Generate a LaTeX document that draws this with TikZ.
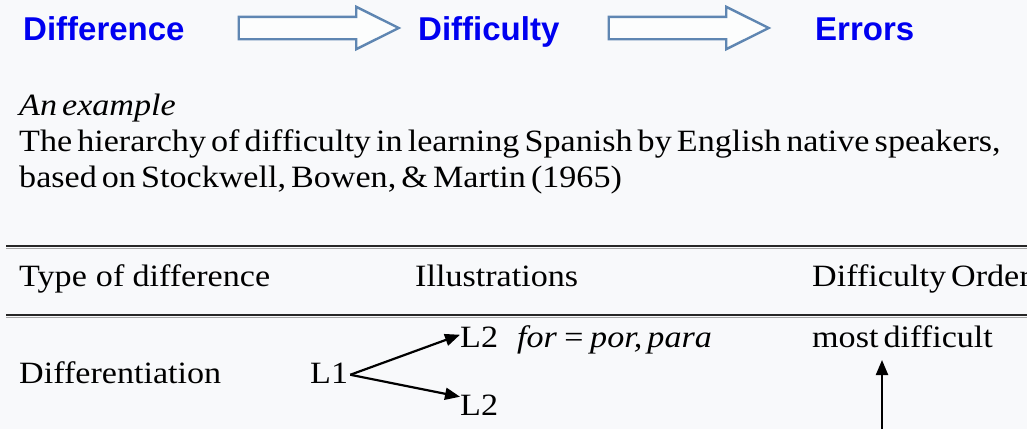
\documentclass[tikz,border=0pt]{standalone}
\usepackage{fontspec}
\setmainfont{Liberation Serif}[FakeStretch=1.1,WordSpace=0.6]
\newfontfamily\headfont{Liberation Sans}
\usetikzlibrary{arrows.meta,shapes.arrows,positioning}

\definecolor{pagebg}{HTML}{F8F9FB}
\definecolor{headblue}{HTML}{0000F0}
\definecolor{arrowedge}{HTML}{5F86B2}

\begin{document}
\begin{tikzpicture}[x=1pt,y=-1pt,>=Triangle,
      every node/.style={inner sep=0pt,font=\fontsize{31}{37}\selectfont},
      headword/.style={anchor=base west,text=headblue,
        font=\headfont\bfseries\fontsize{33}{38}\selectfont},
      blockarrow/.style={single arrow,draw=arrowedge,line width=2.4pt,
        fill=white!60!pagebg,minimum height=160pt,
        inner xsep=0pt,inner ysep=10pt,
        single arrow head extend=10pt,single arrow tip angle=53},
      cell/.style={anchor=base west},
      rule/.style={line width=2pt,black!85},
      link/.style={line width=2.2pt,
        arrows={-Triangle[length=15pt,width=12pt]}}]
    \useasboundingbox[fill=pagebg] (0,0) rectangle (1027,429);

    \node[headword] (diff) at (23,40) {Difference};
    \node[blockarrow] (arrA) at (307.5,28) {};
    \node[headword] (hard) at (418,40) {Difficulty};
    \node[blockarrow] (arrB) at (677.5,28) {};
    \node[headword] (err) at (815,40) {Errors};

    \node[cell] (ex) at (19,115) {\itshape An example};
    \node[cell] (hier) at (19,151) {The hierarchy of difficulty in learning Spanish by English native speakers,};
    \node[cell] (src) at (19,187) {based on Stockwell, Bowen, \& Martin (1965)};

    \draw[black!35,line width=1pt] (6,248) -- (1027,248);
    \draw[rule] (6,246) -- (1027,246);
    \draw[black!35,line width=1pt] (6,317) -- (1027,317);
    \draw[rule] (6,315) -- (1027,315);

    \node[cell] (type) at (19,286) {Type\hspace{4pt} of\hspace{3pt} difference};
    \node[cell] (ill) at (415,286) {Illustrations};
    \node[cell] (ord) at (812,286) {Difficulty Order};

    \node[cell] (dfn) at (19,383) {Differentiation};
    \node[cell] (lone) at (310,383) {L1};
    \node[cell] (ltop) at (460,347) {L2};
    \node[cell] (lbot) at (460,415) {L2};
    \node[cell] (forx) at (517,347) {\itshape for = por, para};
    \node[cell] (most) at (812,347) {most difficult};

    \coordinate (base) at (882,429);
    \coordinate (tip) at (882,360);
    \draw[link] ([xshift=2pt,yshift=-2pt]lone.east) -- ([yshift=2pt]ltop.west);
    \draw[link] ([xshift=2pt,yshift=-2pt]lone.east) -- ([yshift=8pt]lbot.west);
    \draw[link] (base) -- (tip);
\end{tikzpicture}
\end{document}
